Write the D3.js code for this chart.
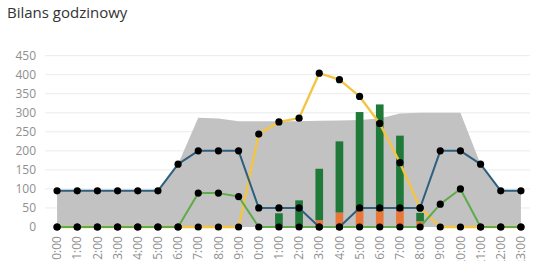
<!DOCTYPE html>
<html>
<head>
<meta charset="utf-8">
<script src="https://cdn.jsdelivr.net/npm/d3@7"></script>
<style>
	body { margin: 0; background: #fff; }
	svg { display: block; font-family: "Open Sans", "Noto Sans", sans-serif; }
</style>
</head>
<body>
<div id="chart"></div>
<script>
/* **************************************************************************
 * Bilans godzinowy                                             */ /**
 *
 * Hourly balance chart: a gray area in the back, stacked bars for two
 * components, and three lines with black markers at each hour.
 *
 ****************************************************************************/

// hour categories along the x axis
var hours = ["0:00", "1:00", "2:00", "3:00", "4:00", "5:00", "6:00", "7:00",
	"8:00", "9:00", "10:00", "11:00", "12:00", "13:00", "14:00", "15:00",
	"16:00", "17:00", "18:00", "19:00", "20:00", "21:00", "22:00", "23:00"];

// gray background area
var areaValues = [95, 95, 95, 95, 95, 95, 165, 287, 285, 278, 278, 278,
	278, 279, 280, 281, 285, 298, 300, 300, 300, 165, 95, 95];

// dark blue line
var blueValues = [95, 95, 95, 95, 95, 95, 165, 200, 200, 200, 50, 50,
	50, 0, 0, 50, 50, 50, 50, 200, 200, 165, 95, 95];

// yellow line
var yellowValues = [0, 0, 0, 0, 0, 0, 0, 0, 0, 0, 244, 276,
	286, 404, 387, 343, 272, 169, 50, 0, 0, 0, 0, 0];

// light green line
var greenValues = [0, 0, 0, 0, 0, 0, 0, 89, 89, 80, 0, 0,
	0, 0, 0, 0, 0, 0, 0, 60, 100, 0, 0, 0];

// stacked bars: orange at the bottom, dark green on top
var orangeBars = [0, 0, 0, 0, 0, 0, 0, 0, 0, 0, 0, 0,
	0, 18, 38, 42, 42, 42, 15, 0, 0, 0, 0, 0];
var darkGreenBars = [0, 0, 0, 0, 0, 0, 0, 0, 0, 0, 0, 36,
	70, 135, 187, 260, 280, 198, 22, 0, 0, 0, 0, 0];

var yTicks = [0, 50, 100, 150, 200, 250, 300, 350, 400, 450];

var width = 533, height = 261;
var margin = {top: 55.7, right: 2, bottom: 34, left: 47};

var svg = d3.select("#chart").append("svg")
	.attr("width", width)
	.attr("height", height);

// title
svg.append("text")
	.attr("x", 7)
	.attr("y", 18)
	.attr("fill", "#333")
	.style("font-size", "15px")
	.text("Bilans godzinowy");

var x = d3.scaleBand()
	.domain(hours)
	.range([margin.left, width - margin.right])
	.paddingInner(0.62)
	.paddingOuter(0.31);

// centre of an hour's band
var cx = function (h) { return x(h) + x.bandwidth() / 2; };

var y = d3.scaleLinear()
	.domain([0, 450])
	.range([height - margin.bottom, margin.top]);

// gridlines
svg.append("g")
	.selectAll("line")
	.data(yTicks.slice(1))
	.join("line")
	.attr("x1", 45)
	.attr("x2", 530)
	.attr("y1", function (d) { return y(d); })
	.attr("y2", function (d) { return y(d); })
	.attr("stroke", "#ebebeb")
	.attr("stroke-width", 1);

// y axis labels
var yAxis = svg.append("g")
	.attr("transform", "translate(36,0)")
	.call(d3.axisLeft(y).tickValues(yTicks).tickSize(0).tickPadding(0));
yAxis.select(".domain").remove();
yAxis.selectAll("text")
	.attr("fill", "#8f8f8f")
	.style("font-size", "12px")
	.style("font-family", "\"Open Sans\", sans-serif");

// x axis labels, rotated (the bottom edge of the page clips the long ones)
var xAxis = svg.append("g")
	.attr("transform", "translate(0," + (height - margin.bottom) + ")")
	.call(d3.axisBottom(x).tickSize(0).tickPadding(0));
xAxis.select(".domain").remove();
xAxis.selectAll("text")
	.attr("fill", "#8f8f8f")
	.style("font-size", "12px")
	.style("font-family", "\"Open Sans\", sans-serif")
	.attr("text-anchor", "end")
	.attr("dy", "0.35em")
	.attr("transform", "translate(0,9) rotate(-90)");

// gray area
var area = d3.area()
	.x(function (d, i) { return cx(hours[i]); })
	.y0(y(0))
	.y1(function (d) { return y(d); });

svg.append("path")
	.datum(areaValues)
	.attr("d", area)
	.attr("fill", "#c2c2c2");

// stacked bars
var stackRows = hours.map(function (h, i) {
	return {hour: h, orange: orangeBars[i], dark: darkGreenBars[i]};
});
var stack = d3.stack().keys(["orange", "dark"])(stackRows);
var barColors = {orange: "#ea773a", dark: "#1f7a3a"};

svg.append("g")
	.selectAll("g")
	.data(stack)
	.join("g")
	.attr("fill", function (s) { return barColors[s.key]; })
	.selectAll("rect")
	.data(function (s) { return s.filter(function (d) { return d[1] > d[0]; }); })
	.join("rect")
	.attr("x", function (d) { return x(d.data.hour); })
	.attr("width", x.bandwidth())
	.attr("y", function (d) { return y(d[1]); })
	.attr("height", function (d) { return y(d[0]) - y(d[1]); });

// lines with markers
var lineGen = d3.line()
	.x(function (d, i) { return cx(hours[i]); })
	.y(function (d) { return y(d); });

var series = [
	{values: yellowValues, color: "#f3c542", width: 2.4},
	{values: blueValues, color: "#2f5f7e", width: 2},
	{values: greenValues, color: "#5fab4a", width: 2}
];

series.forEach(function (s) {
	svg.append("path")
		.datum(s.values)
		.attr("d", lineGen)
		.attr("fill", "none")
		.attr("stroke", s.color)
		.attr("stroke-width", s.width)
		.attr("stroke-linejoin", "round");
});

series.forEach(function (s) {
	svg.append("g")
		.selectAll("circle")
		.data(s.values)
		.join("circle")
		.attr("cx", function (d, i) { return cx(hours[i]); })
		.attr("cy", function (d) { return y(d); })
		.attr("r", 3.6)
		.attr("fill", "#000");
});
</script>
</body>
</html>
